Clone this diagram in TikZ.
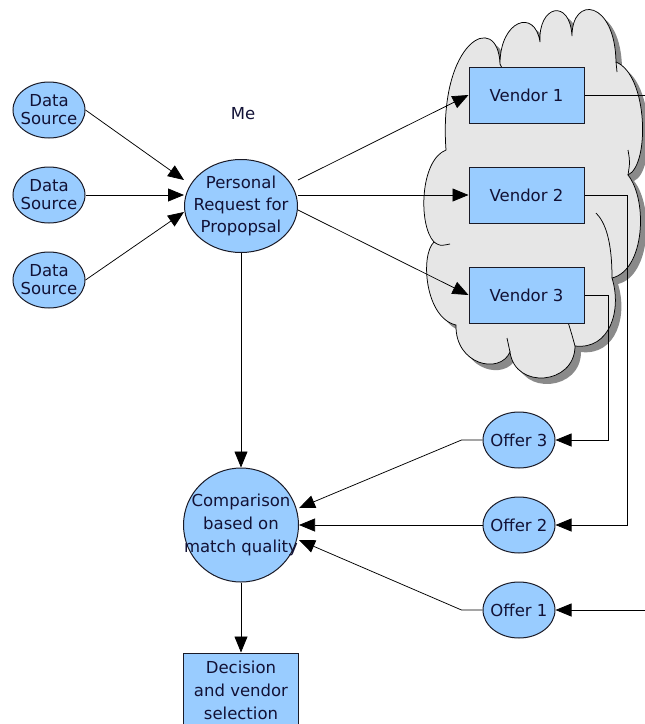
\documentclass[tikz,border=0pt]{standalone}
\usepackage{fontspec}
\setmainfont{DejaVu Sans}
\usetikzlibrary{shapes.geometric,arrows.meta}
\definecolor{blobfill}{HTML}{99CCFF}
\definecolor{edge}{HTML}{1A1A26}
\definecolor{ink}{HTML}{121236}
\definecolor{cloudfill}{HTML}{E6E6E6}
\definecolor{cloudshade}{HTML}{8A8A8A}

% outline of the vendor cloud
\newcommand\vendorcloud{(446,150)
  .. controls (438,40) and (498,10) .. (500,64)
  .. controls (500,20) and (535,8) .. (540,42)
  .. controls (538,5) and (570,-2) .. (572,36)
  .. controls (572,-5) and (615,0) .. (616,62)
  .. controls (648,75) and (650,165) .. (628,175)
  .. controls (648,200) and (645,270) .. (612,278)
  .. controls (622,310) and (610,350) .. (575,346)
  .. controls (575,385) and (515,390) .. (510,352)
  .. controls (500,375) and (455,365) .. (456,325)
  .. controls (425,318) and (420,255) .. (434,242)
  .. controls (418,225) and (420,160) .. (446,150) -- cycle}

\begin{document}
\begin{tikzpicture}[x=1pt,y=-1pt,
  every node/.style={font=\fontsize{16.5}{22}\selectfont, text=ink},
  blob/.style={ellipse, draw=edge, fill=blobfill, line width=1pt, inner sep=0pt},
  vbox/.style={rectangle, draw=edge, fill=blobfill, line width=1pt,
    minimum width=115pt, minimum height=56pt, inner sep=0pt},
  small/.style={blob, minimum width=72pt, minimum height=56pt},
  flow/.style={draw=black, line width=0.75pt, -{Triangle[length=16pt,width=13pt]}},
  cloudedge/.style={draw=black, line width=0.75pt},
]
\useasboundingbox (0,0) rectangle (645,724);

% cloud with its drop shadow
\fill[cloudshade, shift={(6,6)}] \vendorcloud;
\path[fill=cloudfill, cloudedge] \vendorcloud;
\draw[cloudedge] (612,278) .. controls (612,240) and (605,222) .. (596,213);
\draw[cloudedge] (575,346) .. controls (572,335) .. (568,322);
\draw[cloudedge] (628,175) .. controls (630,162) .. (628,150);
\draw[cloudedge] (616,62) -- (617,72);
\draw[cloudedge] (434,242) .. controls (440,246) .. (450,244);
\draw[cloudedge] (510,352) .. controls (508,345) .. (507,338);
\draw[cloudedge] (500,64) .. controls (502,68) .. (504,72);

% data sources
\foreach \i/\y in {1/110,2/195,3/280}
  \node[small, label={[align=center,font=\fontsize{16.5}{18}\selectfont]center:Data\\Source}] (ds\i) at (49,\y) {};

% request
\node (me) at (243,114) {Me};
\node[blob, minimum width=113pt, minimum height=93pt,
  label={[align=center]center:Personal\\Request for\\Propopsal}] (pers) at (241,206) {};

% vendors
\node[vbox] (v1) at (526.5,95) {Vendor 1};
\node[vbox] (v2) at (526.5,195) {Vendor 2};
\node[vbox] (v3) at (526.5,295) {Vendor 3};

% offers
\node[small, label={center:Offer 3}] (off3) at (519,440) {};
\node[small, label={center:Offer 2}] (off2) at (519,525) {};
\node[small, label={center:Offer 1}] (off1) at (519,610) {};

% comparison and decision
\node[blob, minimum width=115pt, minimum height=114pt,
  label={[align=center,font=\fontsize{16.5}{23}\selectfont]center:Comparison\\based on\\match quality}] (comp) at (241,525) {};
\node[vbox, minimum height=74pt, align=center, font=\fontsize{16.5}{23}\selectfont] (dec) at (241,690) {Decision\\and vendor\\selection};

% inputs to the request
\draw[flow] (ds1.east) -- ([yshift=26pt]pers.west);
\draw[flow] (ds2.east) -- ([yshift=11pt]pers.west);
\draw[flow] (ds3.east) -- ([yshift=-6pt]pers.west);

% request out to the vendors
\draw[flow] ([yshift=26pt]pers.east) -- (v1.west);
\draw[flow] ([yshift=11pt]pers.east) -- (v2.west);
\draw[flow] ([yshift=-4pt]pers.east) -- (v3.west);

% vendors answer with offers
\draw[flow] (v3.east) -- ++(24,0) |- (off3.east);
\draw[flow] (v2.east) -- ++(43,0) |- (off2.east);
\draw[flow] (v1.east) -- ++(120,0) |- (off1.east);

% offers into the comparison
\draw[flow] (off3.west) -- ++(-21,0) -- ([yshift=17pt]comp.east);
\draw[flow] (off2.west) -- (comp.east);
\draw[flow] (off1.west) -- ++(-21,0) -- ([yshift=-15pt]comp.east);

% main line down
\draw[flow] (pers.south) -- (comp.north);
\draw[flow] (comp.south) -- (dec.north);
\end{tikzpicture}
\end{document}
